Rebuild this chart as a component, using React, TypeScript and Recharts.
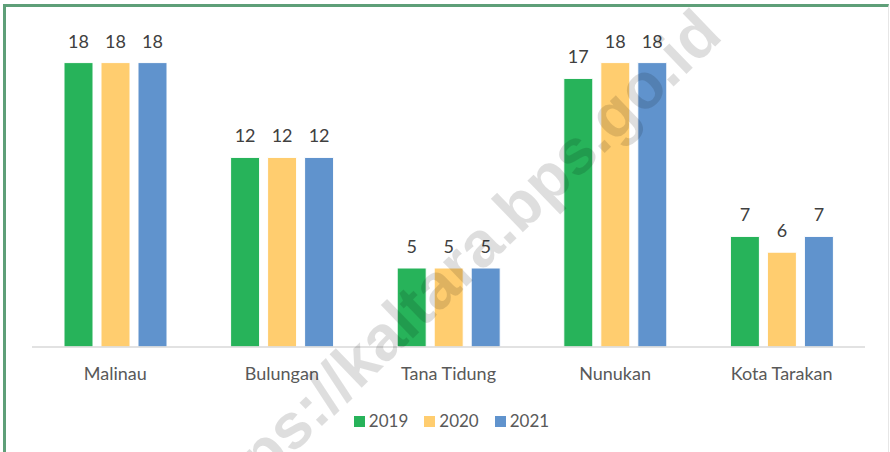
import React from 'react';
import { BarChart, Bar, XAxis, YAxis, Legend, LabelList } from 'recharts';

const regions = ['Malinau', 'Bulungan', 'Tana Tidung', 'Nunukan', 'Kota Tarakan'];
const values2019 = [18, 12, 5, 17, 7];
const values2020 = [18, 12, 5, 18, 6];
const values2021 = [18, 12, 5, 18, 7];

const seriesList = [
  { key: 'y2019', name: '2019', color: '#27B35A' },
  { key: 'y2020', name: '2020', color: '#FFCD6F' },
  { key: 'y2021', name: '2021', color: '#6093CD' },
];

const data = regions.map((region, i) => ({
  region,
  y2019: values2019[i],
  y2020: values2020[i],
  y2021: values2021[i],
}));

const FONT = 'Lato, "Open Sans", sans-serif';

const renderLegend = () => (
  <div
    style={{
      display: 'flex',
      justifyContent: 'center',
      alignItems: 'center',
      height: 24,
      fontFamily: FONT,
      fontSize: 17,
      color: '#595959',
      paddingLeft: 6,
    }}
  >
    {seriesList.map((s) => (
      <div key={s.key} style={{ display: 'flex', alignItems: 'center', margin: '0 8px' }}>
        <span style={{ width: 11, height: 11, background: s.color, marginRight: 4, marginTop: 2 }} />
        <span>{s.name}</span>
      </div>
    ))}
  </div>
);

export default function App() {
  return (
    <div style={{ position: 'absolute', left: 0, top: 0, width: 890, height: 452, background: '#fff', overflow: 'hidden' }}>
      <div
        style={{
          position: 'absolute',
          left: 3,
          top: 4,
          width: 886,
          height: 460,
          boxSizing: 'border-box',
          borderTop: '3px solid #5E9F78',
          borderLeft: '3px solid #5E9F78',
          borderRight: '1px solid #e6e6e6',
        }}
      />
      <div style={{ position: 'absolute', left: 0, top: 0 }}>
        <BarChart
          width={890}
          height={452}
          data={data}
          margin={{ top: 31, right: 25, left: 32, bottom: 20 }}
          barSize={29}
          barGap={8}
        >
          <XAxis
            dataKey="region"
            height={61}
            tickSize={0}
            tickMargin={20}
            axisLine={{ stroke: '#D9D9D9', strokeWidth: 1.5 }}
            tickLine={false}
            tick={{ fill: '#595959', fontSize: 18, fontFamily: FONT }}
          />
          <YAxis hide domain={[0, 20]} />
          <Legend verticalAlign="bottom" content={renderLegend} />
          {seriesList.map((s) => (
            <Bar key={s.key} dataKey={s.key} name={s.name} fill={s.color} stroke="#ffffff" strokeWidth={1} isAnimationActive={false}>
              <LabelList dataKey={s.key} position="top" offset={15} fill="#404040" fontSize={18} fontFamily={FONT} />
            </Bar>
          ))}
        </BarChart>
      </div>
      <svg width={890} height={452} style={{ position: 'absolute', left: 0, top: 0, pointerEvents: 'none' }}>
        <text
          x={205}
          y={539}
          transform="rotate(-44 205 539)"
          fontFamily='"Liberation Sans", Arial, sans-serif'
          fontWeight="bold"
          fontSize={64}
          fill="#000"
          fillOpacity={0.13}
        >
          https://kaltara.bps.go.id
        </text>
      </svg>
    </div>
  );
}
